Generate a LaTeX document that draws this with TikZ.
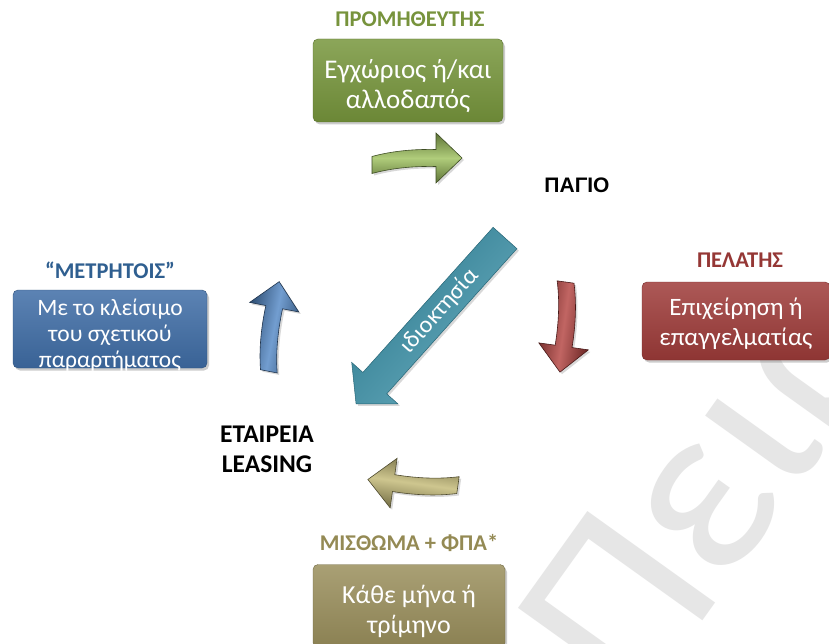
\documentclass[tikz,border=0pt]{standalone}
\usepackage{fontspec}
\setmainfont{Carlito}
\newfontfamily\arialfont{Liberation Sans}
\usetikzlibrary{positioning,shadows,calc}
\definecolor{grntitle}{HTML}{77933C}
\definecolor{grnbox}{HTML}{77963C}
\definecolor{grnarr}{HTML}{9CC05A}
\definecolor{redtitle}{HTML}{953735}
\definecolor{redbox}{HTML}{9E3B39}
\definecolor{redarr}{HTML}{B23F3C}
\definecolor{blutitle}{HTML}{2F5F90}
\definecolor{blubox}{HTML}{3F6DA6}
\definecolor{bluarr}{HTML}{4F85C4}
\definecolor{olvtitle}{HTML}{948A54}
\definecolor{olvbox}{HTML}{9A8F5C}
\definecolor{olvarr}{HTML}{C2B873}
\definecolor{tealarr}{HTML}{3690A8}
\definecolor{markgray}{HTML}{E6E6E6}
\tikzset{
  role/.style={font=\fontsize{22.5}{26}\selectfont\bfseries,anchor=base},
  card/.style={rounded corners=5pt,draw=#1!75!black,line width=0.4pt,
               top color=#1!85!white,bottom color=#1!90!black,
               drop shadow={opacity=0.4,shadow xshift=2pt,shadow yshift=-2.5pt}},
  cardtext/.style={align=center,text=white,inner sep=0pt,
                   font=\fontsize{26}{30}\selectfont},
  bentarr/.style={draw=#1!40!black,line width=0.6pt,
                  top color=#1!60!black,bottom color=#1!60!black,middle color=#1!80!white,
                  drop shadow={opacity=0.3,shadow xshift=2pt,shadow yshift=-2pt}}
}
% curved 3d arrow, pointing along +x, 90 long
\newcommand{\bentpath}{(0,-1.5) .. controls (20,-7) and (42,-9) .. (64,-8.5)
  -- (64,-25) -- (90,0) -- (64,25) -- (64,8.5)
  .. controls (42,8) and (20,10) .. (0,15.5) -- cycle}

\begin{document}
\begin{tikzpicture}[x=1pt,y=-1pt]
  \useasboundingbox[fill=white] (0,0) rectangle (829,644);

  % watermark
  \node[rotate=54.4,anchor=base west,inner sep=0pt,text=markgray,
    font=\fontsize{245}{245}\selectfont] (mark) at (636,714) {Πειραιώς};

  % roles
  \node[role,text=grntitle] (supplier) at (410,27) {ΠΡΟΜΗΘΕΥΤΗΣ};
  \node[role,text=redtitle] (client) at (740,267) {ΠΕΛΑΤΗΣ};
  \node[role,text=blutitle] (cash) at (110,278) {“ΜΕΤΡΗΤΟΙΣ”};
  \node[role,text=olvtitle] (rent) at (409,550) {ΜΙΣΘΩΜΑ + ΦΠΑ*};
  \node[anchor=base,font=\arialfont\bfseries\fontsize{21}{24}\selectfont] (asset) at (577,193) {ΠΑΓΙΟ};
  \node[align=center,font=\fontsize{25.5}{30}\selectfont\bfseries] (lessor) at (267,449.5) {ΕΤΑΙΡΕΙΑ\\LEASING};

  % cards
  \node[card=grnbox,minimum width=190pt,minimum height=83pt] (supbox) at (408,80.5) {};
  \node[cardtext,font=\fontsize{27}{30}\selectfont] (suptxt) at (408,86) {Εγχώριος ή/και\\αλλοδαπός};
  \node[card=redbox,minimum width=188pt,minimum height=78pt] (clibox) at (736,321) {};
  \node[cardtext,font=\fontsize{25}{30}\selectfont] (clitxt) at (736,324) {Επιχείρηση ή\\επαγγελματίας};
  \node[card=blubox,minimum width=194pt,minimum height=78pt] (paybox) at (110,329) {};
  \node[cardtext,font=\fontsize{23.5}{26}\selectfont] (paytxt) at (110,335) {Με το κλείσιμο\\του σχετικού\\παραρτήματος};
  \node[card=olvbox,minimum width=192pt,minimum height=83pt] (rentbox) at (409,606) {};
  \node[cardtext] (renttxt) at (409,611) {Κάθε μήνα ή\\τρίμηνο};

  % curved arrows
  \begin{scope}[shift={(372,158)}]
    \path[bentarr=grnarr] \bentpath;
  \end{scope}
  \begin{scope}[shift={(572.5,283)},rotate=-98]
    \path[bentarr=redarr,shading angle=-98] \bentpath;
  \end{scope}
  \begin{scope}[shift={(457,492)},rotate=172]
    \path[bentarr=olvarr,shading angle=172] \bentpath;
  \end{scope}
  \begin{scope}[shift={(262,370)},rotate=79]
    \path[bentarr=bluarr,shading angle=79] \bentpath;
  \end{scope}

  % ownership
  \coordinate (owntail) at (505,238);
  \coordinate (owntip) at (356,404);
  \begin{scope}[shift={(owntail)},rotate=-131.9]
    \path[draw=tealarr!70!black,line width=0.5pt,top color=tealarr!75!white,bottom color=tealarr!85!black,
      shading angle=-131.9,drop shadow={opacity=0.3,shadow xshift=2pt,shadow yshift=-2pt}]
      (0,-16) -- (195,-16) -- (195,-31) -- (223,0) -- (195,31) -- (195,16) -- (0,16) -- cycle;
  \end{scope}
  \node[rotate=48.1,text=white,font=\fontsize{24}{28}\selectfont] (owner) at ($(owntail)!0.44!(owntip)$) {ιδιοκτησία};
\end{tikzpicture}
\end{document}
